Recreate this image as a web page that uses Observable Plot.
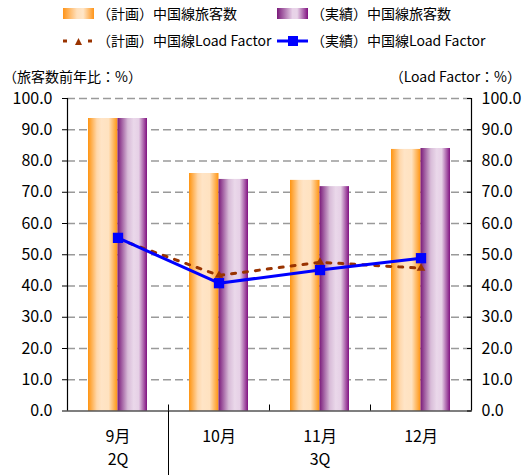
<!DOCTYPE html>
<html>
<head>
<meta charset="utf-8">
<script src="https://cdn.jsdelivr.net/npm/d3@7"></script>
<script src="https://cdn.jsdelivr.net/npm/@observablehq/plot@0.6"></script>
<style>
  body { margin: 0; background: #fff; font-family: "Noto Sans CJK JP", sans-serif; color: #000; }
  #wrap { position: relative; width: 526px; height: 475px; }
  .leg { position: absolute; font-size: 14px; line-height: 16px; white-space: nowrap; }
  .sw { position: absolute; }
  .ttl { position: absolute; font-size: 14px; line-height: 14px; white-space: nowrap; top: 69px; }
  #chart { position: absolute; left: 0; top: 85px; }
</style>
</head>
<body>
<div id="wrap">
  <svg class="sw" style="left:63px;top:8px" width="31" height="11">
    <defs><linearGradient id="lgO" x1="0" x2="1" y1="0" y2="0">
      <stop offset="0" stop-color="#FF9418"/><stop offset="0.45" stop-color="#FFE0BC"/><stop offset="0.65" stop-color="#FFE6C8"/><stop offset="1" stop-color="#FF9418"/>
    </linearGradient></defs>
    <rect width="31" height="11" fill="url(#lgO)"/>
  </svg>
  <div class="leg" style="left:97px;top:5px">（計画）中国線旅客数</div>
  <svg class="sw" style="left:277px;top:8px" width="31" height="11">
    <defs><linearGradient id="lgP" x1="0" x2="1" y1="0" y2="0">
      <stop offset="0" stop-color="#7A1A7A"/><stop offset="0.5" stop-color="#E8D2E8"/><stop offset="0.65" stop-color="#E8D4E8"/><stop offset="1" stop-color="#801080"/>
    </linearGradient></defs>
    <rect width="31" height="11" fill="url(#lgP)"/>
  </svg>
  <div class="leg" style="left:311px;top:5px">（実績）中国線旅客数</div>
  <svg class="sw" style="left:62px;top:34px" width="32" height="14">
    <line x1="1" x2="5" y1="7" y2="7" stroke="#993300" stroke-width="3"/>
    <path d="M13,11 L16.5,4 L20,11 Z" fill="#993300"/>
    <line x1="26" x2="30" y1="7" y2="7" stroke="#993300" stroke-width="3"/>
  </svg>
  <div class="leg" style="left:97px;top:32px">（計画）中国線Load Factor</div>
  <svg class="sw" style="left:276px;top:34px" width="33" height="14">
    <line x1="1" x2="32" y1="7" y2="7" stroke="#0000FF" stroke-width="3"/>
    <rect x="12" y="2" width="10" height="10" fill="#0000FF"/>
  </svg>
  <div class="leg" style="left:311px;top:32px">（実績）中国線Load Factor</div>
  <div class="ttl" style="left:3px">（旅客数前年比：%）</div>
  <div class="ttl" style="right:5px">（Load Factor：%）</div>
  <div id="chart"></div>
</div>
<script>
const months = ["9月", "10月", "11月", "12月"];
const planPassengers = [93.6, 76.0, 73.8, 83.7];
const actualPassengers = [93.6, 74.1, 71.8, 84.0];
const planLoadFactor = [55.0, 43.4, 47.6, 45.7];
const actualLoadFactor = [55.4, 40.9, 45.1, 48.9];
const quarterLabels = ["2Q", "3Q"];
const quarterUnder = ["9月", "11月"];
const yTicks = [0, 10, 20, 30, 40, 50, 60, 70, 80, 90, 100];

const idx = months.map((m, i) => i);
const barW = 0.292;
const planBars = idx.map(i => ({x1: i - barW, x2: i, y: planPassengers[i]}));
const actBars = idx.map(i => ({x1: i, x2: i + barW, y: actualPassengers[i]}));
const planLF = idx.map(i => ({x: i, y: planLoadFactor[i]}));
const actLF = idx.map(i => ({x: i, y: actualLoadFactor[i]}));
const boundaries = idx.slice(0, -1).map(i => i + 0.5);
const quarterPos = quarterUnder.map(m => months.indexOf(m));

const numFont = "'Noto Sans CJK JP', sans-serif";

function defs() {
  const d = d3.create("svg:defs");
  const o = d.append("linearGradient").attr("id", "gO").attr("x1", 0).attr("x2", 1).attr("y1", 0).attr("y2", 0);
  [[0, "#FF9410"], [0.3, "#FFD8AC"], [0.45, "#FFE4C6"], [0.7, "#FFE2C0"], [1, "#FF9410"]]
    .forEach(([off, c]) => o.append("stop").attr("offset", off).attr("stop-color", c));
  const p = d.append("linearGradient").attr("id", "gP").attr("x1", 0).attr("x2", 1).attr("y1", 0).attr("y2", 0);
  [[0, "#7A1A7A"], [0.35, "#D8BCD8"], [0.55, "#EAD8EA"], [0.72, "#E6D0E6"], [1, "#801080"]]
    .forEach(([off, c]) => p.append("stop").attr("offset", off).attr("stop-color", c));
  return d.node();
}

const chart = Plot.plot({
  width: 526,
  height: 390,
  marginLeft: 67,
  marginRight: 55,
  marginTop: 13,
  marginBottom: 64.5,
  style: {fontFamily: numFont, fontSize: "16px", background: "transparent", color: "#000"},
  x: {domain: [-0.5, months.length - 0.5], axis: null},
  y: {domain: [0, 100], axis: null},
  marks: [
    defs,
    Plot.gridY(yTicks.slice(1), {stroke: "#9a9a9a", strokeOpacity: 1, strokeWidth: 1.5, strokeDasharray: "8,4"}),
    Plot.rectY(planBars, {x1: "x1", x2: "x2", y: "y", fill: "url(#gO)"}),
    Plot.rectY(actBars, {x1: "x1", x2: "x2", y: "y", fill: "url(#gP)"}),
    Plot.ruleX([-0.5, months.length - 0.5], {stroke: "#000", strokeWidth: 1.2}),
    Plot.ruleY([0], {stroke: "#000", strokeWidth: 1.2}),
    Plot.axisY({anchor: "left", label: null, ticks: yTicks, tickFormat: d => d.toFixed(1), tickSize: 5, tickPadding: 10, fontSize: 16, fontFamily: numFont}),
    Plot.axisY({anchor: "right", label: null, ticks: yTicks, tickFormat: d => d.toFixed(1), tickSize: -5, tickPadding: 15, fontSize: 16, fontFamily: numFont}),
    Plot.axisX({anchor: "bottom", label: null, ticks: boundaries, tickSize: -6, tickFormat: () => ""}),
    Plot.axisX({anchor: "bottom", label: null, ticks: [boundaries[0]], tickSize: 66, tickFormat: () => ""}),
    Plot.axisX({anchor: "bottom", label: null, ticks: idx, tickSize: 0, tickPadding: 20, tickFormat: i => months[i], fontSize: 16, fontFamily: numFont}),
    Plot.axisX({anchor: "bottom", label: null, ticks: quarterPos, tickSize: 0, tickPadding: 43, tickFormat: i => quarterLabels[quarterPos.indexOf(i)], fontSize: 16, fontFamily: numFont}),
    Plot.line(planLF, {x: "x", y: "y", stroke: "#993300", strokeWidth: 3, strokeDasharray: "4,8"}),
    Plot.dot(planLF, {x: "x", y: "y", symbol: "triangle", r: 3.2, fill: "#993300"}),
    Plot.line(actLF, {x: "x", y: "y", stroke: "#0000FF", strokeWidth: 3}),
    Plot.dot(actLF, {x: "x", y: "y", symbol: "square", r: 5.8, fill: "#0000FF"})
  ]
});
document.getElementById("chart").appendChild(chart);
</script>
</body>
</html>
